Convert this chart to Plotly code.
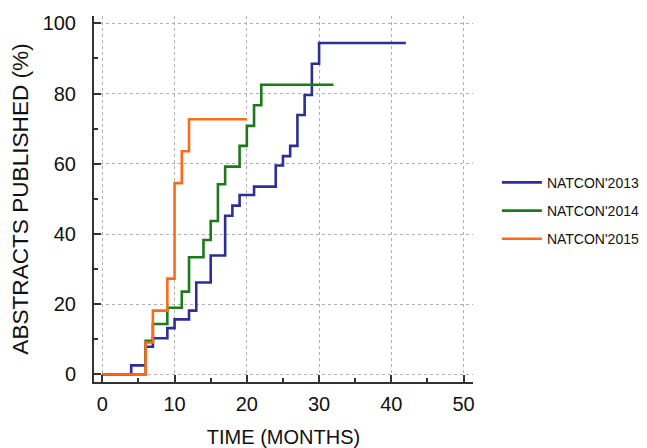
import plotly.graph_objects as go

# Data (months, % abstracts published)
months_2013 = [0, 4, 6, 7, 9, 10, 12, 13, 15, 17, 18, 19, 21, 24, 25, 26, 27, 28, 29, 30, 42]
pct_2013 = [0, 2.6, 7.9, 10.3, 13.2, 15.7, 18.2, 26.2, 33.9, 45.2, 48.1, 51.1, 53.5, 59.5, 62.2, 65.1, 73.9, 79.6, 88.5, 94.4, 94.4]

months_2014 = [0, 6, 7, 9, 11, 12, 14, 15, 16, 17, 19, 20, 21, 22, 32]
pct_2014 = [0, 9.6, 14.4, 19.0, 23.6, 33.4, 38.3, 43.7, 54.2, 59.2, 65.1, 70.8, 76.7, 82.5, 82.5]

months_2015 = [0, 6, 7, 9, 10, 11, 12, 20]
pct_2015 = [0, 9.1, 18.2, 27.3, 54.5, 63.6, 72.7, 72.7]

series_names = ["NATCON'2013", "NATCON'2014", "NATCON'2015"]
colors = ["#2d2f94", "#1b7a1b", "#ff6a1a"]

x_ticks = [0, 10, 20, 30, 40, 50]
y_ticks = [0, 20, 40, 60, 80, 100]

fig = go.Figure()
for name, xs, ys, c in zip(series_names,
                           [months_2013, months_2014, months_2015],
                           [pct_2013, pct_2014, pct_2015], colors):
    fig.add_trace(go.Scatter(x=xs, y=ys, mode="lines", name=name, legendgroup=name,
                             line=dict(color=c, width=2.6, shape="hv")))

FONT = "Liberation Sans, Arial, sans-serif"

# The page body has an 8px margin, so the figure is sized to fill the rest of the window
fig.update_layout(
    width=639, height=440,
    margin=dict(l=86, r=174, t=8, b=66, autoexpand=False),
    plot_bgcolor="white", paper_bgcolor="white",
    font=dict(family=FONT, color="#111111"),
    showlegend=True,
    legend=dict(x=1.063, y=0.588, xanchor="left", yanchor="top",
                font=dict(family=FONT, size=14, color="#111111"),
                itemwidth=40, tracegroupgap=7, bgcolor="rgba(0,0,0,0)"),
)

fig.update_xaxes(
    range=[-1.15, 51.3], tickvals=x_ticks, ticktext=[str(v) for v in x_ticks],
    showline=True, linecolor="#333333", linewidth=2,
    ticks="inside", ticklen=7, tickwidth=2, tickcolor="#333333",
    minor=dict(dtick=5, tick0=0, ticks="inside", ticklen=4, tickwidth=1.5, tickcolor="#333333", showgrid=False),
    showgrid=True, gridcolor="#b0b0b0", gridwidth=1, griddash="3px,3px",
    zeroline=False, tickfont=dict(size=20, color="#111111"), ticklabelstandoff=3,
    title=dict(text="TIME (MONTHS)", font=dict(size=20, color="#111111"), standoff=18),
)
fig.update_yaxes(
    range=[-2.14, 102.1], tickvals=y_ticks, ticktext=[str(v) for v in y_ticks],
    showline=True, linecolor="#333333", linewidth=2,
    ticks="inside", ticklen=7, tickwidth=2, tickcolor="#333333",
    minor=dict(dtick=10, tick0=0, ticks="inside", ticklen=4, tickwidth=1.5, tickcolor="#333333", showgrid=False),
    showgrid=True, gridcolor="#b0b0b0", gridwidth=1, griddash="3px,3px",
    zeroline=False, tickfont=dict(size=20, color="#111111"), ticklabelstandoff=12,
    title=dict(text="ABSTRACTS PUBLISHED (%)", font=dict(size=22.6, color="#111111"), standoff=17),
)

fig.write_html("out.html")
